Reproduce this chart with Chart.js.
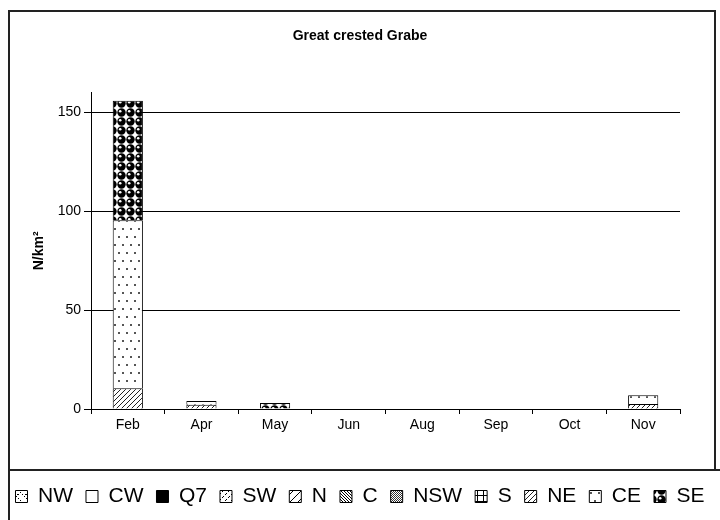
<!DOCTYPE html>
<html>
<head>
<meta charset="utf-8">
<script src="https://cdn.jsdelivr.net/npm/chart.js@4.4.1/dist/chart.umd.min.js"></script>
<style>
  html, body { margin: 0; padding: 0; background: #fff; }
  #wrap { width: 720px; height: 520px; }
</style>
</head>
<body>
<div id="wrap"><canvas id="chart" width="720" height="520"></canvas></div>
<script>
const months = ["Feb", "Apr", "May", "Jun", "Aug", "Sep", "Oct", "Nov"];
const seriesNames = ["NW", "CW", "Q7", "SW", "N", "C", "NSW", "S", "NE", "CE", "SE"];

const valuesNW = [0, 0, 0, 0, 0, 0, 0, 0];
const valuesCW = [0, 0, 0, 0, 0, 0, 0, 0];
const valuesQ7 = [0, 0, 0, 0, 0, 0, 0, 0];
const valuesSW = [0, 0, 0, 0, 0, 0, 0, 0];
const valuesN = [0, 0, 0, 0, 0, 0, 0, 0];
const valuesC = [0, 0, 0, 0, 0, 0, 0, 0];
const valuesNSW = [0, 0, 0, 0, 0, 0, 0, 0];
const valuesS = [0, 0, 0, 0, 0, 0, 0, 0];
const valuesNE = [10.5, 2.2, 0, 0, 0, 0, 0, 2.5];
const valuesCE = [85, 1.8, 0, 0, 0, 0, 0, 4.5];
const valuesSE = [60.5, 0, 3, 0, 0, 0, 0, 0];

const yTicks = [0, 50, 100, 150];

const canvas = document.getElementById("chart");
const ctx = canvas.getContext("2d");
const font = "'Liberation Sans', Arial, sans-serif";

const makePattern = (w, h, draw) => {
  const c = document.createElement("canvas");
  c.width = w;
  c.height = h;
  const g = c.getContext("2d");
  g.fillStyle = "#fff";
  g.fillRect(0, 0, w, h);
  g.fillStyle = "#000";
  draw(g, w, h);
  return ctx.createPattern(c, "repeat");
};

// one fill per series, roughly like the old Excel pattern fills
const fills = {
  NW: makePattern(8, 8, (g) => {
    for (let i = 0; i < 8; i += 2) g.fillRect(i, i, 1, 1);
    g.fillRect(1, 6, 2, 1);
  }),
  CW: "#fff",
  Q7: "#000",
  SW: makePattern(6, 6, (g) => {
    g.fillRect(0, 5, 1, 1); g.fillRect(1, 4, 1, 1);
    g.fillRect(3, 2, 1, 1); g.fillRect(4, 1, 1, 1);
  }),
  N: makePattern(8, 8, (g) => {
    for (let i = 0; i < 8; i++) g.fillRect(i, 7 - i, 1, 1);
  }),
  C: makePattern(3, 3, (g) => {
    for (let i = 0; i < 3; i++) g.fillRect(i, i, 1, 1);
  }),
  NSW: makePattern(2, 2, (g) => {
    g.fillStyle = "#333";
    g.fillRect(0, 0, 1, 1);
    g.fillRect(1, 1, 1, 1);
  }),
  S: makePattern(6, 6, (g) => {
    g.fillRect(3, 0, 1, 6);
    g.fillRect(0, 3, 6, 1);
  }),
  NE: makePattern(5, 5, (g) => {
    g.fillStyle = "#222";
    for (let i = 0; i < 5; i++) g.fillRect(i, 4 - i, 1, 1);
  }),
  CE: makePattern(8, 16, (g) => {
    g.fillStyle = "#555";
    g.fillRect(2, 4, 2, 2);
    g.fillRect(6, 12, 2, 2);
  }),
  SE: makePattern(9, 9, (g) => {
    g.beginPath();
    g.arc(4.5, 4.5, 4.2, 0, Math.PI * 2);
    g.fill();
    g.fillStyle = "#fff";
    g.beginPath();
    g.arc(3.2, 3.2, 1.3, 0, Math.PI * 2);
    g.fill();
  }),
};

const seriesValues = {
  NW: valuesNW, CW: valuesCW, Q7: valuesQ7, SW: valuesSW, N: valuesN, C: valuesC,
  NSW: valuesNSW, S: valuesS, NE: valuesNE, CE: valuesCE, SE: valuesSE,
};

const datasets = seriesNames.map((name) => ({
  label: name,
  data: seriesValues[name],
  backgroundColor: fills[name],
  borderColor: "#000",
  borderWidth: 1,
  yAxisID: "y",
}));

const framePlugin = {
  id: "frames",
  beforeDraw(chart) {
    const c = chart.ctx;
    c.save();
    c.fillStyle = "#fff";
    c.fillRect(0, 0, chart.width, chart.height);
    c.restore();
  },
  afterDraw(chart) {
    const c = chart.ctx;
    c.save();
    c.strokeStyle = "#222";
    c.lineWidth = 2;
    c.strokeRect(9, 11, 706, 459);
    c.strokeRect(9, 470, 720, 60);
    c.restore();
  },
};

new Chart(ctx, {
  type: "bar",
  data: { labels: months, datasets },
  plugins: [framePlugin],
  options: {
    responsive: false,
    animation: false,
    layout: { padding: { left: 0, right: 0, top: 0, bottom: 3 } },
    datasets: { bar: { categoryPercentage: 1, barPercentage: 0.41 } },
    plugins: {
      title: {
        display: true,
        text: "Great crested Grabe",
        color: "#000",
        font: { family: font, size: 14, weight: "bold" },
        padding: { top: 28, bottom: 48 },
      },
      legend: {
        position: "bottom",
        labels: {
          color: "#000",
          font: { family: font, size: 21 },
          boxWidth: 12,
          boxHeight: 12,
          padding: 13,
        },
      },
      tooltip: { enabled: false },
    },
    scales: {
      x: {
        stacked: true,
        grid: { drawOnChartArea: false, drawTicks: true, tickLength: 5, color: "#000" },
        border: { display: true, color: "#000", width: 1 },
        ticks: { color: "#000", font: { family: font, size: 14 }, padding: 3, maxRotation: 0 },
        afterFit: (scale) => { scale.height = 64; },
      },
      y: {
        stacked: true,
        min: 0,
        max: 160,
        afterBuildTicks: (scale) => { scale.ticks = yTicks.map((v) => ({ value: v })); },
        grid: { color: "#000", lineWidth: 1, drawTicks: true, tickLength: 7 },
        border: { display: true, color: "#000", width: 1 },
        ticks: { color: "#000", font: { family: font, size: 14 }, padding: 3 },
        title: {
          display: true,
          text: "N/km²",
          color: "#000",
          font: { family: font, size: 14, weight: "bold" },
          padding: { top: 31, bottom: 0 },
        },
        afterFit: (scale) => { scale.width = 91; },
      },
      yRight: {
        position: "right",
        display: true,
        grid: { display: false },
        border: { display: false },
        ticks: { display: false },
        afterFit: (scale) => { scale.width = 40; },
      },
    },
  },
});
</script>
</body>
</html>
